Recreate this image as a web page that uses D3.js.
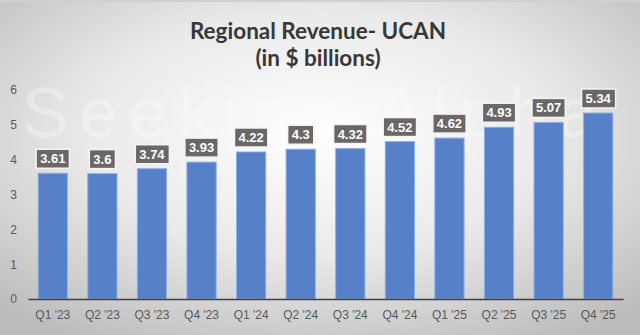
<!DOCTYPE html>
<html><head><meta charset="utf-8">
<script src="https://cdn.jsdelivr.net/npm/d3@7/dist/d3.min.js"></script>
<style>body{margin:0;overflow:hidden;background:#fff}</style>
</head><body>
<script>
const categories = ["Q1 '23","Q2 '23","Q3 '23","Q4 '23","Q1 '24","Q2 '24","Q3 '24","Q4 '24","Q1 '25","Q2 '25","Q3 '25","Q4 '25"];
const revenue = [3.61,3.6,3.74,3.93,4.22,4.3,4.32,4.52,4.62,4.93,5.07,5.34];
const labels = ["3.61","3.6","3.74","3.93","4.22","4.3","4.32","4.52","4.62","4.93","5.07","5.34"];
const yTicks = [0,1,2,3,4,5,6];
const titleLines = ["Regional Revenue- UCAN","(in $ billions)"];

const W = 640, H = 335;
const svg = d3.select("body").append("svg").attr("width", W).attr("height", H);
const defs = svg.append("defs");
const g = defs.append("radialGradient").attr("id","bg").attr("cx","50%").attr("cy","40%").attr("r","72%");
g.append("stop").attr("offset","0%").attr("stop-color","#ffffff");
g.append("stop").attr("offset","50%").attr("stop-color","#eaeaea");
g.append("stop").attr("offset","100%").attr("stop-color","#bcbcbc");
svg.append("rect").attr("x",0).attr("y",0).attr("width",W).attr("height",H).attr("fill","url(#bg)");
svg.append("rect").attr("x",0).attr("y",0).attr("width",W).attr("height",2).attr("fill","#d0d0d0");

// watermark
svg.append("text").attr("x", 22).attr("y", 137)
  .attr("font-family","Liberation Sans, Arial").attr("font-size",70)
  .attr("textLength",575).attr("lengthAdjust","spacing")
  .attr("fill","#ffffff").attr("opacity",0.3).text("Seeking Alpha");

const x = d3.scaleBand().domain(categories).range([28, 623]).paddingInner(0.41).paddingOuter(0.205);
const y = d3.scaleLinear().domain([0, 6]).range([299, 90]);

const title = svg.append("text").attr("text-anchor","middle")
  .attr("font-family","Lato, Open Sans, sans-serif").attr("font-weight","bold")
  .attr("font-size",22.5).attr("fill","#383838");
title.selectAll("tspan").data(titleLines).join("tspan")
  .attr("x",318).attr("y",(d,i)=>39+i*27).text(d=>d);

const yAxis = svg.append("g").attr("transform","translate(20,0)")
  .call(d3.axisLeft(y).tickValues(yTicks).tickSize(0).tickFormat(d3.format("d")));
yAxis.select(".domain").remove();
yAxis.selectAll("text").attr("font-family","Liberation Sans, Arial").attr("font-size",12).attr("fill","#595959").attr("x",-3);

svg.append("g").selectAll("rect").data(revenue).join("rect")
  .attr("x",(d,i)=>x(categories[i])).attr("width",x.bandwidth())
  .attr("y",d=>y(d)).attr("height",d=>y(0)-y(d))
  .attr("fill","#5681c9").attr("stroke","#8fb0e6").attr("stroke-width",1);

const xAxis = svg.append("g").attr("transform","translate(0,299)")
  .call(d3.axisBottom(x).tickSize(0).tickPadding(11));
xAxis.select(".domain").attr("stroke","#404040").attr("stroke-width",1.5);
xAxis.selectAll("text").attr("font-family","Liberation Sans, Arial").attr("font-size",12).attr("fill","#595959");

const lab = svg.append("g").selectAll("g").data(revenue).join("g")
  .attr("transform",(d,i)=>`translate(${x(categories[i])+x.bandwidth()/2},${y(d)-14.5})`);
lab.append("text").attr("text-anchor","middle").attr("dy","0.35em")
  .attr("font-family","Liberation Sans, Arial").attr("font-weight","bold").attr("font-size",13)
  .attr("fill","#fff").text((d,i)=>labels[i]);
lab.each(function(){
  const t = d3.select(this).select("text");
  const bb = t.node().getBBox();
  d3.select(this).insert("rect","text").attr("x",bb.x-4).attr("y",-9.5).attr("width",bb.width+8).attr("height",19)
    .attr("fill","#6a6766").attr("stroke","#f4f4f4").attr("stroke-width",1.5);
});
</script>
</body></html>
